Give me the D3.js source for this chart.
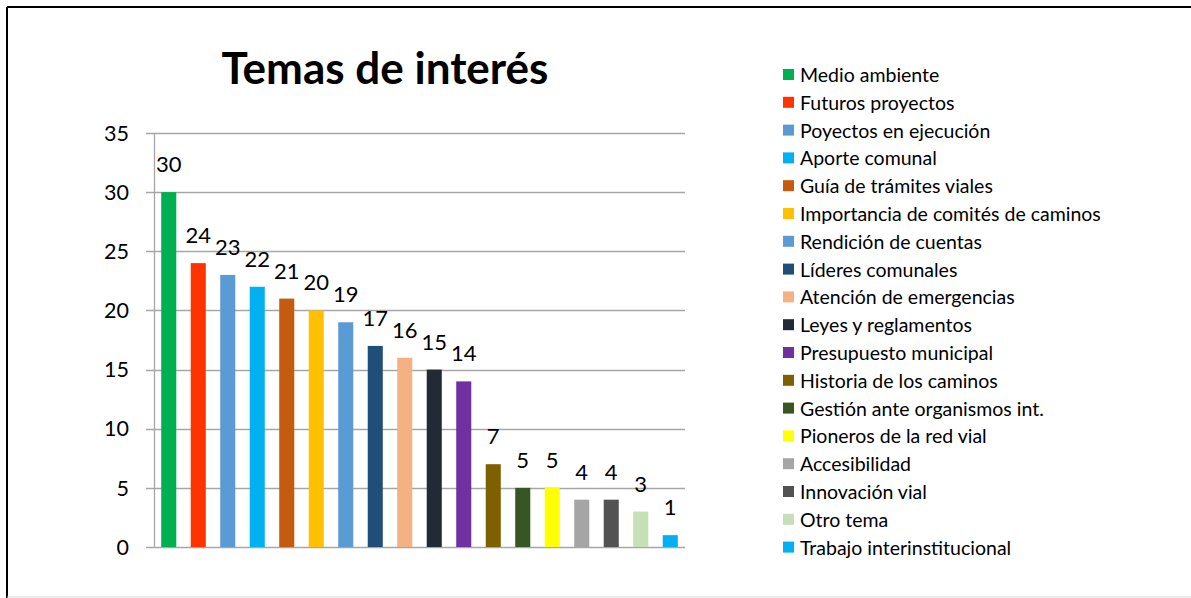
<!DOCTYPE html>
<html><head><meta charset="utf-8">
<script src="https://cdn.jsdelivr.net/npm/d3@7"></script>
<style>body{margin:0;background:#fff;} svg{display:block;}</style>
</head><body>
<svg id="c" width="1191" height="598"></svg>
<script>
const categories = ["Medio ambiente","Futuros proyectos","Poyectos en ejecución","Aporte comunal","Guía de trámites viales","Importancia de comités de caminos","Rendición de cuentas","Líderes comunales","Atención de emergencias","Leyes y reglamentos","Presupuesto municipal","Historia de los caminos","Gestión ante organismos int.","Pioneros de la red vial","Accesibilidad","Innovación vial","Otro tema","Trabajo interinstitucional"];
const values = [30,24,23,22,21,20,19,17,16,15,14,7,5,5,4,4,3,1];
const colors = ["#00B050","#FF3300","#5B9BD5","#00B0F0","#C55A11","#FFC000","#5B9BD5","#1F4E79","#F4B183","#222A35","#7030A0","#7F6000","#375623","#FFFF00","#A5A5A5","#525252","#C5E0B4","#00B0F0"];
const yTicks = [0,5,10,15,20,25,30,35];
const title = "Temas de interés";

const font = "Lato, 'Open Sans', sans-serif";
const svg = d3.select("#c");
// frame
svg.append("line").attr("x1",7).attr("y1",7).attr("x2",1191).attr("y2",7).attr("stroke","#000").attr("stroke-width",2);
svg.append("line").attr("x1",7).attr("y1",7).attr("x2",7).attr("y2",598).attr("stroke","#000").attr("stroke-width",2);
svg.append("line").attr("x1",7).attr("y1",597).attr("x2",1191).attr("y2",597).attr("stroke","#d9d9d9").attr("stroke-width",1);

const x = d3.scaleBand().domain(categories).range([154,685]).paddingInner(0.49).paddingOuter(0.245);
const y = d3.scaleLinear().domain([0,35]).range([547,133]);

// gridlines
svg.append("g").selectAll("line").data(yTicks).join("line")
  .attr("x1",146).attr("x2",685).attr("y1",d=>Math.round(y(d))+0.5).attr("y2",d=>Math.round(y(d))+0.5)
  .attr("stroke","#A6A6A6").attr("stroke-width",1.3);
// y axis line
svg.append("line").attr("x1",154.5).attr("x2",154.5).attr("y1",133).attr("y2",547).attr("stroke","#A6A6A6").attr("stroke-width",1.3);

// y labels
svg.append("g").selectAll("text").data(yTicks).join("text")
  .attr("x",129).attr("y",d=>y(d)).attr("dy","0.36em").attr("text-anchor","end")
  .attr("font-family",font).attr("font-size",21.5).attr("fill","#000").text(d=>d);

// bars
svg.append("g").selectAll("rect").data(values).join("rect")
  .attr("x",(d,i)=>x(categories[i])).attr("width",x.bandwidth())
  .attr("y",d=>y(d)).attr("height",d=>y(0)-y(d)).attr("fill",(d,i)=>colors[i]);

// value labels
svg.append("g").selectAll("text").data(values).join("text")
  .attr("x",(d,i)=>x(categories[i])+x.bandwidth()/2).attr("y",d=>y(d)-20)
  .attr("text-anchor","middle").attr("font-family",font).attr("font-size",22).attr("fill","#000").text(d=>d);

// title
svg.append("text").attr("x",385).attr("y",84).attr("text-anchor","middle")
  .attr("font-family",font).attr("font-weight","bold").attr("font-size",44).attr("fill","#000").text(title);

// legend
const lg = svg.append("g").selectAll("g").data(categories).join("g")
  .attr("transform",(d,i)=>`translate(783,${74+i*27.8})`);
lg.append("rect").attr("x",0).attr("y",-5).attr("width",11).attr("height",11).attr("fill",(d,i)=>colors[i]);
lg.append("text").attr("x",17).attr("y",1).attr("dy","0.36em").attr("font-family",font).attr("font-size",19.5).attr("fill","#000").text(d=>d);
</script>
</body></html>
